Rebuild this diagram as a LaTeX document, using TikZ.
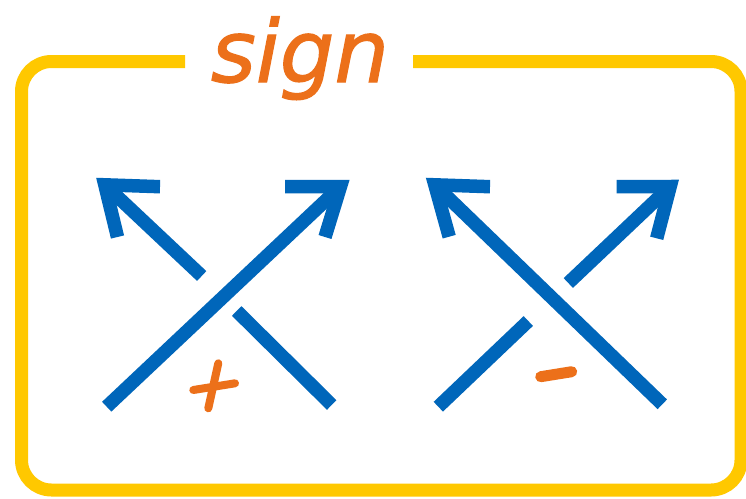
\documentclass[tikz,border=0pt]{standalone}
\usepackage{fontspec}
\newfontfamily\signfont[FakeBold=1.4]{DejaVu Sans}
\definecolor{kblue}{RGB}{0,102,186}
\definecolor{korange}{RGB}{236,112,26}
\definecolor{kyellow}{RGB}{255,200,0}
\begin{document}
\begin{tikzpicture}[x=1pt,y=-1pt,
  frame/.style={draw=kyellow,line width=13pt,rounded corners=30pt},
  strand/.style={draw=kblue,line width=13.5pt,line join=miter},
  marksign/.style={draw=korange,line width=8pt,line cap=round}]
\useasboundingbox[fill=white] (0,0) rectangle (746,498);
% frame
\draw[frame] (185,61.5) -- (21.5,61.5) -- (21.5,490) -- (741,490) -- (741,61.5) -- (413,61.5);
\node[text=korange,anchor=base,inner sep=0pt] (title) at (300,82)
  {\resizebox{178pt}{!}{\signfont\itshape sign}};
% left crossing (positive)
\coordinate (la1) at (106.7,406.7);
\coordinate (la2) at (340.5,186.5);
\draw[strand] (la1) -- (la2);
\draw[strand] (285,186.5) -- (la2) -- (325,237);
\coordinate (lb1) at (331.7,405);
\coordinate (lb2) at (236.7,311);
\coordinate (lb3) at (201.7,276);
\coordinate (lb4) at (104.8,184.8);
\draw[strand] (lb1) -- (lb2);
\draw[strand] (lb3) -- (lb4);
\draw[strand] (160,186.7) -- (lb4) -- (117.5,237);
% right crossing (negative)
\coordinate (ra1) at (662.3,404.3);
\coordinate (ra2) at (434.8,184.8);
\draw[strand] (ra1) -- (ra2);
\draw[strand] (490,186.7) -- (ra2) -- (449.2,236.7);
\coordinate (rb1) at (438.3,406.7);
\coordinate (rb2) at (528.3,321);
\coordinate (rb3) at (568.3,283);
\coordinate (rb4) at (670.2,186.5);
\draw[strand] (rb1) -- (rb2);
\draw[strand] (rb3) -- (rb4);
\draw[strand] (616.7,186.7) -- (rb4) -- (656.7,238.3);
% signs
\draw[marksign] (218.3,363.3) -- (208.3,408.3);
\draw[marksign] (193.3,390) -- (235,383.3);
\draw[marksign,line width=11pt] (540.7,376.7) -- (571.7,371.7);
\end{tikzpicture}
\end{document}
